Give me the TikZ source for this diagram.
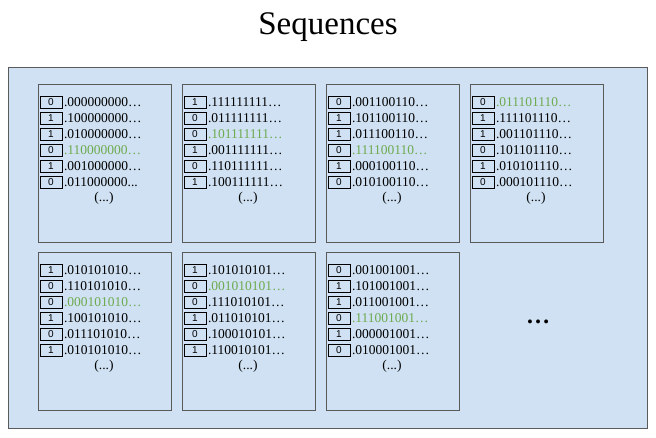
\documentclass[tikz,border=0pt]{standalone}
\usepackage{fontspec}
\setmainfont{Liberation Serif}
\newfontfamily\bitfont{Liberation Sans}
\usetikzlibrary{positioning}
\definecolor{panelblue}{RGB}{207,225,242}
\definecolor{seqgreen}{RGB}{110,170,80}
\definecolor{edgegray}{RGB}{90,90,90}

\tikzset{
  panel/.style={draw=edgegray, fill=panelblue, line width=0.7pt},
  bitbox/.style={draw=black, line width=0.7pt, minimum width=22pt, minimum height=12pt,
                 inner sep=0pt, font=\bitfont\fontsize{10}{10}\selectfont},
  seqtext/.style={inner sep=1.5pt, font=\fontsize{13.5}{14}\selectfont},
}

% #1 name, #2/#3 top left corner, #4 rows bit/string/colour
\newcommand\seqpanel[4]{%
  \draw[panel] (#2,#3) rectangle ++(133,158);
  \foreach \b/\s/\c [count=\i] in {#4} {
    \node[bitbox] (#1b\i) at (#2+13,#3+18+16*\i-16) {\b};
    \node[seqtext, text=\c, right=0pt of #1b\i.east] (#1s\i) {\s};
  }
  \node[seqtext] (#1dots) at (#2+66,#3+114) {(...)};
}

\begin{document}
\begin{tikzpicture}[x=1pt,y=-1pt]
\useasboundingbox (0,0) rectangle (656,437);

\node[font=\fontsize{33}{35}\selectfont] (title) at (328,27) {Sequences};
\draw[panel, fill=panelblue] (8,67) rectangle (647,428);

\seqpanel{p}{38}{84}{0/.000000000…/black, 1/.100000000…/black, 1/.010000000…/black,
  0/.110000000…/seqgreen, 1/.001000000…/black, 0/{.011000000...}/black}
\seqpanel{q}{182}{84}{1/.111111111…/black, 0/.011111111…/black, 0/.101111111…/seqgreen,
  1/.001111111…/black, 0/.110111111…/black, 1/.100111111…/black}
\seqpanel{r}{326}{84}{0/.001100110…/black, 1/.101100110…/black, 1/.011100110…/black,
  0/.111100110…/seqgreen, 1/.000100110…/black, 0/.010100110…/black}
\seqpanel{s}{470}{84}{0/.011101110…/seqgreen, 1/.111101110…/black, 1/.001101110…/black,
  0/.101101110…/black, 1/.010101110…/black, 0/.000101110…/black}
\seqpanel{t}{38}{252}{1/.010101010…/black, 0/.110101010…/black, 0/.000101010…/seqgreen,
  1/.100101010…/black, 0/.011101010…/black, 1/.010101010…/black}
\seqpanel{u}{182}{252}{1/.101010101…/black, 0/.001010101…/seqgreen, 0/.111010101…/black,
  1/.011010101…/black, 0/.100010101…/black, 1/.110010101…/black}
\seqpanel{v}{326}{252}{0/.001001001…/black, 1/.101001001…/black, 1/.011001001…/black,
  0/.111001001…/seqgreen, 1/.000001001…/black, 0/.010001001…/black}

\node[font=\fontsize{24}{24}\selectfont\bfseries] (more) at (538,322) {…};
\end{tikzpicture}
\end{document}
